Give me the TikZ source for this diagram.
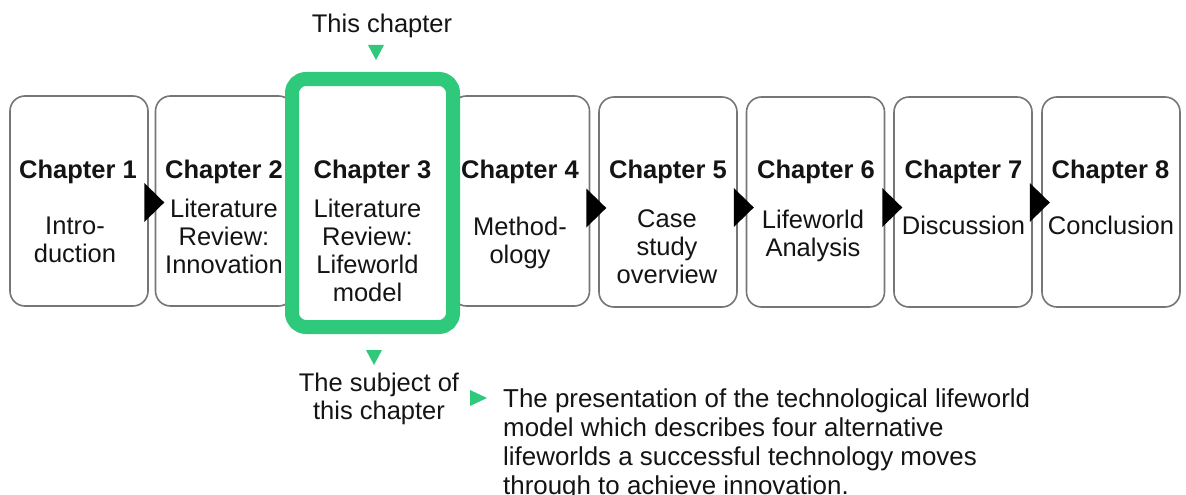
\documentclass[tikz,border=0pt]{standalone}
\usepackage{fontspec}
\setmainfont{Liberation Sans}
\usetikzlibrary{calc}
\definecolor{hlgreen}{RGB}{46,201,122}
\definecolor{boxgray}{RGB}{118,118,118}
\definecolor{ink}{RGB}{20,20,20}

\begin{document}
\begin{tikzpicture}[x=1pt,y=-1pt,
  chbox/.style={draw=boxgray,line width=1.6pt,rounded corners=15pt,fill=white,
    minimum width=138pt,minimum height=210pt,inner sep=0pt},
  curbox/.style={draw=hlgreen,line width=14pt,rounded corners=14pt,fill=white,
    minimum width=161pt,minimum height=248pt,inner sep=0pt},
  chtitle/.style={font=\fontsize{25.5}{28}\selectfont\bfseries,text=ink,anchor=base,inner sep=0pt},
  chbody/.style={font=\fontsize{25.5}{28}\selectfont,text=ink,align=center,anchor=north,inner sep=0pt},
  note/.style={font=\fontsize{25.5}{28}\selectfont,text=ink,inner sep=0pt},
  nexttri/.pic={\fill[black] (0,-19.5) -- (20,0) -- (0,19.5) -- cycle;}
]
\useasboundingbox (0,0) rectangle (1186,495);
\fill[white] (0,0) rectangle (1186,495);

% chapter boxes
\node[chbox] (c1) at (79,201) {};
\node[chbox] (c2) at (224.5,201) {};
\node[chbox] (c4) at (520.5,201) {};
\node[chbox] (c5) at (668,202) {};
\node[chbox] (c6) at (815.5,202) {};
\node[chbox] (c7) at (963,202) {};
\node[chbox] (c8) at (1111,202) {};
% highlighted current chapter
\node[curbox] (c3) at (372.5,203) {};

% step triangles between boxes
\pic at ($(c1.east)+(-4.5,1.5)$) {nexttri};
\pic at ($(c4.east)+(-4,7)$) {nexttri};
\pic at ($(c5.east)+(-4,5.5)$) {nexttri};
\pic at ($(c6.east)+(-3,5.5)$) {nexttri};
\pic at ($(c7.east)+(-3,0.5)$) {nexttri};

% chapter titles
\node[chtitle] (t1) at (78,178) {Chapter 1};
\node[chtitle] (t2) at (224,178) {Chapter 2};
\node[chtitle] (t3) at (372.5,178) {Chapter 3};
\node[chtitle] (t4) at (520,178) {Chapter 4};
\node[chtitle] (t5) at (668,178) {Chapter 5};
\node[chtitle] (t6) at (816,178) {Chapter 6};
\node[chtitle] (t7) at (963.5,178) {Chapter 7};
\node[chtitle] (t8) at (1110.5,178) {Chapter 8};

% chapter subjects
\node[chbody] (b1) at (75,216.5) {Intro-\\duction};
\node[chbody] (b2) at (224,198.8) {Literature\\Review:\\Innovation};
\node[chbody] (b3) at (367.5,198.8) {Literature\\Review:\\Lifeworld\\model};
\node[chbody] (b4) at (520,216.5) {Method-\\ology};
\node[chbody] (b5) at (667,209.5) {Case\\study\\overview};
\node[chbody] (b6) at (813,209.5) {Lifeworld\\Analysis};
\node[chbody] (b7) at (963.5,215.5) {Discussion};
\node[chbody] (b8) at (1111,215.5) {Conclusion};

% pointer to the current chapter
\node[note,anchor=base] (this) at (382,33) {This chapter};
\fill[hlgreen] (368,45) -- (384,45) -- (376,60) -- cycle;

% subject of the chapter
\fill[hlgreen] (366,350) -- (382,350) -- (374,365) -- cycle;
\node[note,align=center,anchor=north] (subj) at (379,373) {The subject of\\this chapter};
\fill[hlgreen] (470,390) -- (470,406) -- (487,398) -- cycle;
\node[note,font=\fontsize{25.9}{29}\selectfont,align=left,anchor=north west] (desc) at (503,389)
  {The presentation of the technological lifeworld\\model which describes four alternative\\lifeworlds a successful technology moves\\through to achieve innovation.};
\end{tikzpicture}
\end{document}
